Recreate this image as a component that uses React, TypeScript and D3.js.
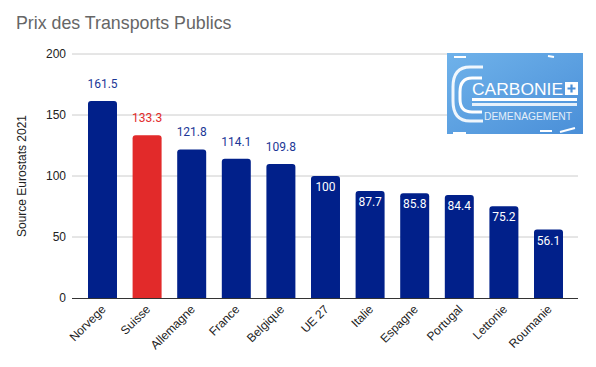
import React from "react";
import * as d3 from "d3";

const categories = ["Norvege", "Suisse", "Allemagne", "France", "Belgique", "UE 27", "Italie", "Espagne", "Portugal", "Lettonie", "Roumanie"];
const values = [161.5, 133.3, 121.8, 114.1, 109.8, 100, 87.7, 85.8, 84.4, 75.2, 56.1];
const yTicks = [0, 50, 100, 150, 200];
const highlight = "Suisse";

const W = 596, H = 367;
const BLUE = "#01208a";
const RED = "#e22a2a";
const LABEL_BLUE = "#1c3796";

export default function App() {
  const x = d3.scaleBand<string>().domain(categories).range([80.2, 570.8]).paddingInner(0.35).paddingOuter(0.175);
  const y = d3.scaleLinear().domain([0, 200]).range([298, 54]);
  const r = 3;
  const barPath = (x0: number, w: number, top: number, bottom: number) => {
    const p = d3.path();
    p.moveTo(x0, bottom);
    p.lineTo(x0, top + r);
    p.quadraticCurveTo(x0, top, x0 + r, top);
    p.lineTo(x0 + w - r, top);
    p.quadraticCurveTo(x0 + w, top, x0 + w, top + r);
    p.lineTo(x0 + w, bottom);
    p.closePath();
    return p.toString();
  };
  return (
    <svg width={W} height={H} style={{ position: "absolute", left: 0, top: 0, fontFamily: "Liberation Sans, Arial, sans-serif" }}>
      <rect width={W} height={H} fill="#fff" />
      <text x={16} y={29} fontSize={17.8} fill="#666">Prix des Transports Publics</text>
      {yTicks.map((t) => (
        <g key={t}>
          {t !== 0 && <line x1={72} x2={578} y1={y(t)} y2={y(t)} stroke="#cccccc" strokeWidth={1} />}
          <text x={66} y={y(t) + 4} fontSize={12} textAnchor="end" fill="#222">{t}</text>
        </g>
      ))}
      <text transform={`translate(26,176) rotate(-90)`} fontSize={12} textAnchor="middle" fill="#222">Source Eurostats 2021</text>
      {categories.map((c, i) => {
        const v = values[i];
        const bx = x(c)!;
        const bw = x.bandwidth();
        const top = y(v);
        const isH = c === highlight;
        const inside = v <= 100;
        return (
          <g key={c}>
            <path d={barPath(bx, bw, top, y(0))} fill={isH ? RED : BLUE} />
            <text x={bx + bw / 2} y={inside ? top + 15 : top - 13} fontSize={12} textAnchor="middle"
              fontFamily="Roboto, sans-serif"
              fill={inside ? "#fff" : isH ? RED : LABEL_BLUE}>{String(v)}</text>
            <text transform={`translate(${bx + bw / 2 + 4},${y(0) + 12}) rotate(-45)`} fontSize={12} textAnchor="end" fill="#222">{c}</text>
          </g>
        );
      })}
      <line x1={72} x2={578} y1={298.5} y2={298.5} stroke="#333" strokeWidth={1} />
      <defs>
        <linearGradient id="lg" x1="0" x2="1" y1="0" y2="1">
          <stop offset="0" stopColor="#6fb2ea" />
          <stop offset="1" stopColor="#4a8fd8" />
        </linearGradient>
      </defs>
      <g>
        <rect x={447} y={53} width={136} height={81} fill="url(#lg)" />
        <path d="M482,78 L472,78 Q460,78 460,92 L460,99 Q460,112 472,112 L482,112" fill="none" stroke="#fff" strokeWidth={3} />
        <path d="M483,67 L470,67 Q453,67 453,87 L453,101 Q453,121 470,121 L483,121" fill="none" stroke="#fff" strokeWidth={3} opacity={0.9} />
        <text x={472} y={95} fontSize={17} fill="#fff" textLength={91} lengthAdjust="spacingAndGlyphs">CARBONIE</text>
        <rect x={565} y={82} width={13} height={13} fill="#fff" />
        <path d="M571.5,84.5 L571.5,92.5 M567.5,88.5 L575.5,88.5" stroke="#4a8fd8" strokeWidth={2.2} />
        <rect x={472} y={98} width={105} height={3} fill="#fff" />
        <rect x={472} y={103} width={105} height={3} fill="#fff" opacity={0.85} />
        <text x={484} y={120} fontSize={11} fill="#fff" opacity={0.85} textLength={88} lengthAdjust="spacingAndGlyphs">DEMENAGEMENT</text>
        <path d="M454,57 L466,57 M548,56 L554,57 M453,133 L466,133 M540,131 L552,131 M560,132 L575,128" stroke="#fff" strokeWidth={2} />
      </g>
    </svg>
  );
}
